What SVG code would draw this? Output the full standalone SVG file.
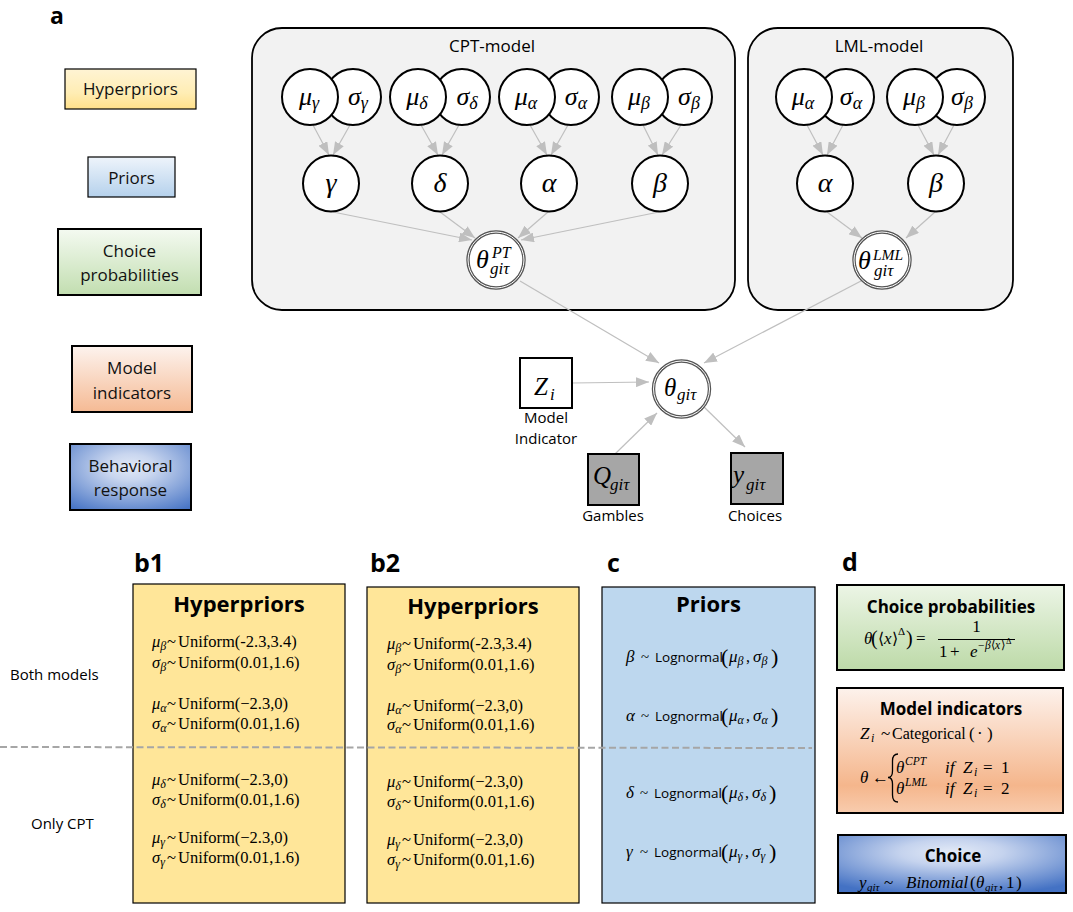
<svg xmlns="http://www.w3.org/2000/svg" width="1073" height="912" viewBox="0 0 1073 912">
<defs>
<style>
.sans{font-family:"Open Sans","Noto Sans",sans-serif;fill:#000}
.bold{font-family:"Open Sans","Noto Sans",sans-serif;font-weight:bold;fill:#000}
.leg{font-family:"Open Sans","Noto Sans",sans-serif;font-size:17px;fill:#111}
.m{font-family:"Liberation Serif","DejaVu Serif",serif;font-style:italic;fill:#000}
.u{font-family:"Liberation Serif","DejaVu Serif",serif;fill:#000}
.node{fill:#fff;stroke:#000;stroke-width:2}
.plate{fill:#f2f2f2;stroke:#000;stroke-width:1.8}
.conn line{stroke:#bfbfbf;stroke-width:1.2;marker-end:url(#ah)}
.ring{fill:#fff;stroke:#555;stroke-width:3.4}
.ringgap{fill:none;stroke:#fff;stroke-width:1}
.obs{fill:#a6a6a6;stroke:#000;stroke-width:2}
.f text{font-size:16.5px}
</style>
<marker id="ah" markerWidth="13" markerHeight="10" refX="13" refY="5" orient="auto" markerUnits="userSpaceOnUse"><path d="M0,0 L13,5 L0,10 z" fill="#bfbfbf"/></marker>
<linearGradient id="gHyp" x1="0" y1="0" x2="0" y2="1"><stop offset="0" stop-color="#fff4d4"/><stop offset="0.6" stop-color="#ffedb4"/><stop offset="1" stop-color="#ffe08a"/></linearGradient>
<linearGradient id="gPri" x1="0" y1="0" x2="0" y2="1"><stop offset="0" stop-color="#eef4fb"/><stop offset="1" stop-color="#b5d1ec"/></linearGradient>
<linearGradient id="gCho" x1="0" y1="0" x2="0" y2="1"><stop offset="0" stop-color="#f4faf1"/><stop offset="1" stop-color="#c2deb0"/></linearGradient>
<linearGradient id="gMod" x1="0" y1="0" x2="0" y2="1"><stop offset="0" stop-color="#fdf3ee"/><stop offset="1" stop-color="#f5ba94"/></linearGradient>
<radialGradient id="gBeh" cx="0.5" cy="0.35" r="0.8"><stop offset="0" stop-color="#e2e9f6"/><stop offset="0.25" stop-color="#c9d6ef"/><stop offset="1" stop-color="#4472c4"/></radialGradient>
<linearGradient id="gChoD" x1="0" y1="0" x2="0" y2="1"><stop offset="0" stop-color="#ecf5e6"/><stop offset="1" stop-color="#bddaa8"/></linearGradient>
<linearGradient id="gModD" x1="0" y1="0" x2="0" y2="1"><stop offset="0" stop-color="#fdf2ec"/><stop offset="0.78" stop-color="#f5b68c"/><stop offset="1" stop-color="#f8ccae"/></linearGradient>
<radialGradient id="gChoice" cx="0.5" cy="0.3" r="0.75"><stop offset="0" stop-color="#e4ebf7"/><stop offset="0.3" stop-color="#c5d3ee"/><stop offset="1" stop-color="#4472c4"/></radialGradient>
</defs>
<rect x="0" y="0" width="1073" height="912" fill="#fff"/>

<!-- panel labels -->
<text class="bold" x="50" y="24" font-size="23">a</text>
<text class="bold" x="134" y="572" font-size="25">b1</text>
<text class="bold" x="370" y="572" font-size="25">b2</text>
<text class="bold" x="607" y="572" font-size="25">c</text>
<text class="bold" x="842" y="571" font-size="25">d</text>

<!-- legend -->
<g id="legend-hyperpriors"><rect x="65" y="69" width="131" height="40" fill="url(#gHyp)" stroke="#000" stroke-width="1.2"/><text class="leg" x="130.5" y="95" text-anchor="middle">Hyperpriors</text></g>
<g id="legend-priors"><rect x="88" y="157" width="87" height="40" fill="url(#gPri)" stroke="#000" stroke-width="1.2"/><text class="leg" x="131.5" y="184" text-anchor="middle">Priors</text></g>
<g id="legend-choice"><rect x="58" y="229" width="143" height="66" fill="url(#gCho)" stroke="#000" stroke-width="2"/><text class="leg" x="129.5" y="257" text-anchor="middle">Choice</text><text class="leg" x="129.5" y="281" text-anchor="middle">probabilities</text></g>
<g id="legend-model"><rect x="72" y="346" width="120" height="66" fill="url(#gMod)" stroke="#000" stroke-width="2"/><text class="leg" x="132" y="374" text-anchor="middle">Model</text><text class="leg" x="132" y="399" text-anchor="middle">indicators</text></g>
<g id="legend-behavioral"><rect x="70" y="444" width="121" height="66" fill="url(#gBeh)" stroke="#000" stroke-width="2"/><text class="leg" x="130.5" y="472" text-anchor="middle">Behavioral</text><text class="leg" x="130.5" y="496" text-anchor="middle">response</text></g>

<!-- plates -->
<g id="cpt-model"><rect class="plate" x="252" y="28" width="483" height="282" rx="30"/><text class="sans" x="492" y="52" font-size="17" text-anchor="middle" fill="#222">CPT-model</text></g>
<g id="lml-model"><rect class="plate" x="748" y="28" width="265" height="282" rx="30"/><text class="sans" x="879" y="52" font-size="17" text-anchor="middle" fill="#222">LML-model</text></g>

<!-- connectors -->
<g id="connectors" class="conn">
<line x1="313" y1="125" x2="329" y2="155"/><line x1="350" y1="125" x2="333" y2="155"/>
<line x1="421" y1="125" x2="438" y2="155"/><line x1="459" y1="125" x2="442" y2="155"/>
<line x1="530" y1="125" x2="547" y2="155"/><line x1="568" y1="125" x2="551" y2="155"/>
<line x1="643" y1="125" x2="658" y2="155"/><line x1="681" y1="125" x2="662" y2="155"/>
<line x1="807" y1="125" x2="823" y2="155"/><line x1="843" y1="125" x2="827" y2="155"/>
<line x1="918" y1="125" x2="934" y2="155"/><line x1="954" y1="125" x2="938" y2="155"/>
<line x1="333" y1="212" x2="472" y2="240"/><line x1="440" y1="212" x2="475" y2="238"/>
<line x1="548" y1="212" x2="518" y2="238"/><line x1="659" y1="212" x2="521" y2="240"/>
<line x1="827" y1="212" x2="862" y2="238"/><line x1="935" y1="212" x2="906" y2="238"/>
<line x1="520" y1="281" x2="659" y2="363"/>
<line x1="861" y1="281" x2="704" y2="363"/>
<line x1="572" y1="383" x2="649" y2="382"/>
<line x1="615" y1="454" x2="657" y2="413"/>
<line x1="703" y1="406" x2="745" y2="447"/>
</g>

<!-- CPT hyperprior nodes -->
<g id="sigma-gamma"><circle class="node" cx="353" cy="97" r="28"/><text class="m" x="358" y="105" font-size="26" text-anchor="middle">σ<tspan font-size="18" dy="4">γ</tspan></text></g>
<g id="mu-gamma"><circle class="node" cx="310" cy="97" r="28"/><text class="m" x="309" y="105" font-size="26" text-anchor="middle">μ<tspan font-size="18" dy="4">γ</tspan></text></g>
<g id="sigma-delta"><circle class="node" cx="462" cy="97" r="28"/><text class="m" x="467" y="105" font-size="26" text-anchor="middle">σ<tspan font-size="18" dy="4">δ</tspan></text></g>
<g id="mu-delta"><circle class="node" cx="418" cy="97" r="28"/><text class="m" x="417" y="105" font-size="26" text-anchor="middle">μ<tspan font-size="18" dy="4">δ</tspan></text></g>
<g id="sigma-alpha"><circle class="node" cx="571" cy="97" r="28"/><text class="m" x="576" y="105" font-size="26" text-anchor="middle">σ<tspan font-size="18" dy="4">α</tspan></text></g>
<g id="mu-alpha"><circle class="node" cx="527" cy="97" r="28"/><text class="m" x="526" y="105" font-size="26" text-anchor="middle">μ<tspan font-size="18" dy="4">α</tspan></text></g>
<g id="sigma-beta"><circle class="node" cx="684" cy="97" r="28"/><text class="m" x="689" y="105" font-size="26" text-anchor="middle">σ<tspan font-size="18" dy="4">β</tspan></text></g>
<g id="mu-beta"><circle class="node" cx="640" cy="97" r="28"/><text class="m" x="639" y="105" font-size="26" text-anchor="middle">μ<tspan font-size="18" dy="4">β</tspan></text></g>

<!-- CPT prior nodes -->
<g id="gamma"><circle class="node" cx="331" cy="183.5" r="28"/><text class="m" x="331" y="192" font-size="28" text-anchor="middle">γ</text></g>
<g id="delta"><circle class="node" cx="440" cy="183.5" r="28"/><text class="m" x="440" y="192" font-size="28" text-anchor="middle">δ</text></g>
<g id="alpha"><circle class="node" cx="549" cy="183.5" r="28"/><text class="m" x="549" y="192" font-size="28" text-anchor="middle">α</text></g>
<g id="beta"><circle class="node" cx="660" cy="183.5" r="28"/><text class="m" x="660" y="192" font-size="28" text-anchor="middle">β</text></g>

<g id="theta-pt"><circle class="ring" cx="496" cy="260" r="28"/><circle class="ringgap" cx="496" cy="260" r="28"/><text class="m" x="476" y="268" font-size="26">θ</text><text class="m" x="492" y="258" font-size="16">PT</text><text class="m" x="490" y="274" font-size="17">giτ</text></g>

<!-- LML nodes -->
<g id="lml-sigma-alpha"><circle class="node" cx="846" cy="97" r="28"/><text class="m" x="851" y="105" font-size="26" text-anchor="middle">σ<tspan font-size="18" dy="4">α</tspan></text></g>
<g id="lml-mu-alpha"><circle class="node" cx="804" cy="97" r="28"/><text class="m" x="803" y="105" font-size="26" text-anchor="middle">μ<tspan font-size="18" dy="4">α</tspan></text></g>
<g id="lml-sigma-beta"><circle class="node" cx="957" cy="97" r="28"/><text class="m" x="962" y="105" font-size="26" text-anchor="middle">σ<tspan font-size="18" dy="4">β</tspan></text></g>
<g id="lml-mu-beta"><circle class="node" cx="915" cy="97" r="28"/><text class="m" x="914" y="105" font-size="26" text-anchor="middle">μ<tspan font-size="18" dy="4">β</tspan></text></g>
<g id="lml-alpha"><circle class="node" cx="825" cy="183.5" r="28"/><text class="m" x="825" y="192" font-size="28" text-anchor="middle">α</text></g>
<g id="lml-beta"><circle class="node" cx="936" cy="183.5" r="28"/><text class="m" x="936" y="192" font-size="28" text-anchor="middle">β</text></g>
<g id="theta-lml"><circle class="ring" cx="882" cy="260" r="28"/><circle class="ringgap" cx="882" cy="260" r="28"/><text class="m" x="858" y="269" font-size="26">θ</text><text class="m" x="873" y="260" font-size="15.5">LML</text><text class="m" x="874" y="276" font-size="17">giτ</text></g>

<!-- lower graph -->
<g id="theta"><circle class="ring" cx="681.5" cy="389" r="28"/><circle class="ringgap" cx="681.5" cy="389" r="28"/><text class="m" x="664" y="396" font-size="25">θ</text><text class="m" x="677" y="400" font-size="17">giτ</text></g>
<g id="z-indicator"><rect x="520" y="358" width="52" height="50" fill="#fff" stroke="#000" stroke-width="2"/><text class="m" x="534" y="395" font-size="25">Z</text><text class="m" x="550" y="400" font-size="17">i</text><text class="sans" x="546" y="423" font-size="15" text-anchor="middle">Model</text><text class="sans" x="546" y="444" font-size="15" text-anchor="middle">Indicator</text></g>
<g id="q-gambles"><rect class="obs" x="588" y="454" width="51" height="51"/><text class="m" x="593" y="484" font-size="25">Q</text><text class="m" x="610" y="490" font-size="17">giτ</text><text class="sans" x="613" y="521" font-size="15" text-anchor="middle">Gambles</text></g>
<g id="y-choices"><rect class="obs" x="731" y="453" width="52" height="51"/><text class="m" x="733" y="483" font-size="25">y</text><text class="m" x="746" y="490" font-size="17">giτ</text><text class="sans" x="755" y="521" font-size="15" text-anchor="middle">Choices</text></g>

<!-- side labels -->
<text class="sans" x="10" y="680" font-size="15">Both models</text>
<text class="sans" x="31" y="829" font-size="15">Only CPT</text>

<!-- b1 -->
<g id="b1-hyperpriors">
<rect x="133" y="584" width="212" height="319" fill="#ffe699" stroke="#000" stroke-width="1.2"/>
<text class="bold" x="239" y="612" font-size="22" text-anchor="middle">Hyperpriors</text>
<g class="f">
<text class="m" x="152" y="647">μ<tspan font-size="12" dy="3">β</tspan></text><text class="u" x="167" y="647">~</text><text class="u" x="178" y="647">Uniform(-2.3,3.4)</text>
<text class="m" x="152" y="668">σ<tspan font-size="12" dy="3">β</tspan></text><text class="u" x="167" y="668">~</text><text class="u" x="178" y="668">Uniform(0.01,1.6)</text>
<text class="m" x="152" y="709">μ<tspan font-size="12" dy="3">α</tspan></text><text class="u" x="167" y="709">~</text><text class="u" x="178" y="709">Uniform(−2.3,0)</text>
<text class="m" x="152" y="729">σ<tspan font-size="12" dy="3">α</tspan></text><text class="u" x="167" y="729">~</text><text class="u" x="178" y="729">Uniform(0.01,1.6)</text>
<text class="m" x="152" y="785">μ<tspan font-size="12" dy="3">δ</tspan></text><text class="u" x="167" y="785">~</text><text class="u" x="178" y="785">Uniform(−2.3,0)</text>
<text class="m" x="152" y="805">σ<tspan font-size="12" dy="3">δ</tspan></text><text class="u" x="167" y="805">~</text><text class="u" x="178" y="805">Uniform(0.01,1.6)</text>
<text class="m" x="152" y="843">μ<tspan font-size="12" dy="3">γ</tspan></text><text class="u" x="167" y="843">~</text><text class="u" x="178" y="843">Uniform(−2.3,0)</text>
<text class="m" x="152" y="863">σ<tspan font-size="12" dy="3">γ</tspan></text><text class="u" x="167" y="863">~</text><text class="u" x="178" y="863">Uniform(0.01,1.6)</text>
</g>
</g>

<!-- b2 -->
<g id="b2-hyperpriors">
<rect x="367" y="587" width="212" height="316" fill="#ffe699" stroke="#000" stroke-width="1.2"/>
<text class="bold" x="473" y="614" font-size="22" text-anchor="middle">Hyperpriors</text>
<g class="f">
<text class="m" x="387" y="649">μ<tspan font-size="12" dy="3">β</tspan></text><text class="u" x="402" y="649">~</text><text class="u" x="413" y="649">Uniform(-2.3,3.4)</text>
<text class="m" x="387" y="670">σ<tspan font-size="12" dy="3">β</tspan></text><text class="u" x="402" y="670">~</text><text class="u" x="413" y="670">Uniform(0.01,1.6)</text>
<text class="m" x="387" y="711">μ<tspan font-size="12" dy="3">α</tspan></text><text class="u" x="402" y="711">~</text><text class="u" x="413" y="711">Uniform(−2.3,0)</text>
<text class="m" x="387" y="730">σ<tspan font-size="12" dy="3">α</tspan></text><text class="u" x="402" y="730">~</text><text class="u" x="413" y="730">Uniform(0.01,1.6)</text>
<text class="m" x="387" y="787">μ<tspan font-size="12" dy="3">δ</tspan></text><text class="u" x="402" y="787">~</text><text class="u" x="413" y="787">Uniform(−2.3,0)</text>
<text class="m" x="387" y="807">σ<tspan font-size="12" dy="3">δ</tspan></text><text class="u" x="402" y="807">~</text><text class="u" x="413" y="807">Uniform(0.01,1.6)</text>
<text class="m" x="387" y="845">μ<tspan font-size="12" dy="3">γ</tspan></text><text class="u" x="402" y="845">~</text><text class="u" x="413" y="845">Uniform(−2.3,0)</text>
<text class="m" x="387" y="865">σ<tspan font-size="12" dy="3">γ</tspan></text><text class="u" x="402" y="865">~</text><text class="u" x="413" y="865">Uniform(0.01,1.6)</text>
</g>
</g>

<!-- c -->
<g id="c-priors">
<rect x="602" y="587" width="213" height="316" fill="#bdd7ee" stroke="#000" stroke-width="1.2"/>
<text class="bold" x="708.5" y="612" font-size="22" text-anchor="middle">Priors</text>
<g>
<text class="m" x="626" y="662" font-size="17">β</text><text class="u" x="641" y="662" font-size="15">~</text><text class="sans" x="655" y="662" font-size="13.5">Lognormal</text><text class="u" x="721" y="664" font-size="22">(</text><text class="m" x="729" y="662" font-size="17">μ<tspan font-size="12" dy="3">β</tspan></text><text class="u" x="746" y="662" font-size="16">,</text><text class="m" x="753" y="662" font-size="17">σ<tspan font-size="12" dy="3">β</tspan></text><text class="u" x="771" y="664" font-size="22">)</text>
<text class="m" x="626" y="721" font-size="17">α</text><text class="u" x="641" y="721" font-size="15">~</text><text class="sans" x="655" y="721" font-size="13.5">Lognormal</text><text class="u" x="721" y="723" font-size="22">(</text><text class="m" x="729" y="721" font-size="17">μ<tspan font-size="12" dy="3">α</tspan></text><text class="u" x="746" y="721" font-size="16">,</text><text class="m" x="753" y="721" font-size="17">σ<tspan font-size="12" dy="3">α</tspan></text><text class="u" x="771" y="723" font-size="22">)</text>
<text class="m" x="626" y="798" font-size="17">δ</text><text class="u" x="640" y="798" font-size="15">~</text><text class="sans" x="654" y="798" font-size="13.5">Lognormal</text><text class="u" x="721" y="800" font-size="22">(</text><text class="m" x="729" y="798" font-size="17">μ<tspan font-size="12" dy="3">δ</tspan></text><text class="u" x="745" y="798" font-size="16">,</text><text class="m" x="752" y="798" font-size="17">σ<tspan font-size="12" dy="3">δ</tspan></text><text class="u" x="769" y="800" font-size="22">)</text>
<text class="m" x="626" y="857" font-size="17">γ</text><text class="u" x="640" y="857" font-size="15">~</text><text class="sans" x="654" y="857" font-size="13.5">Lognormal</text><text class="u" x="721" y="859" font-size="22">(</text><text class="m" x="729" y="857" font-size="17">μ<tspan font-size="12" dy="3">γ</tspan></text><text class="u" x="745" y="857" font-size="16">,</text><text class="m" x="752" y="857" font-size="17">σ<tspan font-size="12" dy="3">γ</tspan></text><text class="u" x="769" y="859" font-size="22">)</text>
</g>
</g>

<!-- d: choice probabilities -->
<g id="d-choice-probabilities">
<rect x="837" y="585" width="227" height="85" fill="url(#gChoD)" stroke="#000" stroke-width="2"/>
<text class="bold" x="951" y="613" font-size="17" text-anchor="middle">Choice probabilities</text>
<text class="m" x="864" y="644" font-size="17">θ</text>
<text class="u" x="871" y="645" font-size="20">(</text>
<text class="u" x="878" y="644" font-size="16">⟨</text>
<text class="m" x="884" y="644" font-size="17">x</text>
<text class="u" x="892" y="644" font-size="16">⟩</text>
<text class="u" x="898" y="635" font-size="11">Δ</text>
<text class="u" x="906" y="645" font-size="20">)</text>
<text class="u" x="916" y="644" font-size="17">=</text>
<line x1="938" y1="639.5" x2="1015" y2="639.5" stroke="#000" stroke-width="1"/>
<text class="u" x="976.5" y="632" font-size="17" text-anchor="middle">1</text>
<text class="u" x="939" y="657" font-size="17">1</text>
<text class="u" x="950" y="657" font-size="17">+</text>
<text class="m" x="970" y="657" font-size="17">e</text>
<text class="u" x="978" y="649" font-size="11.5">−</text>
<text class="m" x="985" y="649" font-size="11.5">β</text>
<text class="u" x="991" y="649" font-size="11.5">⟨</text>
<text class="m" x="995" y="649" font-size="11.5">x</text>
<text class="u" x="1001" y="649" font-size="11.5">⟩</text>
<text class="u" x="1006" y="644" font-size="8.5">Δ</text>
</g>

<!-- d: model indicators -->
<g id="d-model-indicators">
<rect x="837" y="688" width="226" height="125" fill="url(#gModD)" stroke="#000" stroke-width="2"/>
<text class="bold" x="951" y="715" font-size="17" text-anchor="middle">Model indicators</text>
<text class="m" x="860" y="738.5" font-size="17">Z</text><text class="m" x="871" y="742" font-size="12">i</text>
<text class="u" x="881" y="738.5" font-size="17">~</text><text class="u" x="892" y="738.5" font-size="16">Categorical</text><text class="u" x="969" y="738.5" font-size="17">(</text><text class="u" x="977" y="738.5" font-size="17">·</text><text class="u" x="987" y="738.5" font-size="17">)</text>
<text class="m" x="860" y="783" font-size="17">θ</text><text class="u" x="872" y="783" font-size="17">←</text>
<path d="M898,754 Q892.5,754 892.5,761 L892.5,771 Q892.5,777.5 888,777.5 Q892.5,777.5 892.5,784 L892.5,795 Q892.5,802 898,802" fill="none" stroke="#000" stroke-width="1.3"/>
<text class="m" x="896" y="772.5" font-size="17">θ</text><text class="m" x="905" y="765" font-size="11.5">CPT</text>
<text class="m" x="945" y="772.5" font-size="17">if</text><text class="m" x="963" y="772.5" font-size="17">Z</text><text class="m" x="974" y="776" font-size="12">i</text><text class="u" x="983" y="772.5" font-size="17">=</text><text class="u" x="1001" y="772.5" font-size="17">1</text>
<text class="m" x="896" y="793.5" font-size="17">θ</text><text class="m" x="905" y="786" font-size="11.5">LML</text>
<text class="m" x="945" y="793.5" font-size="17">if</text><text class="m" x="963" y="793.5" font-size="17">Z</text><text class="m" x="974" y="797" font-size="12">i</text><text class="u" x="983" y="793.5" font-size="17">=</text><text class="u" x="1001" y="793.5" font-size="17">2</text>
</g>

<!-- d: choice -->
<g id="d-choice">
<rect x="838" y="835" width="228" height="58" fill="url(#gChoice)" stroke="#000" stroke-width="2"/>
<text class="bold" x="953" y="862" font-size="17" text-anchor="middle">Choice</text>
<text class="m" x="859" y="888" font-size="17">y</text><text class="m" x="867" y="891" font-size="11">giτ</text>
<text class="u" x="884" y="888" font-size="17">~</text>
<text class="m" x="906" y="888" font-size="17">Binomial</text>
<text class="u" x="970" y="888" font-size="17">(</text>
<text class="m" x="976" y="888" font-size="17">θ</text><text class="m" x="985" y="891" font-size="11">giτ</text>
<text class="u" x="999" y="888" font-size="17">,</text>
<text class="u" x="1006" y="888" font-size="17">1</text>
<text class="u" x="1016" y="888" font-size="17">)</text>
</g>

<!-- dashed separator -->
<line x1="0" y1="747" x2="812" y2="748" stroke="#a6a6a6" stroke-width="2" stroke-dasharray="7,3.5"/>
</svg>
